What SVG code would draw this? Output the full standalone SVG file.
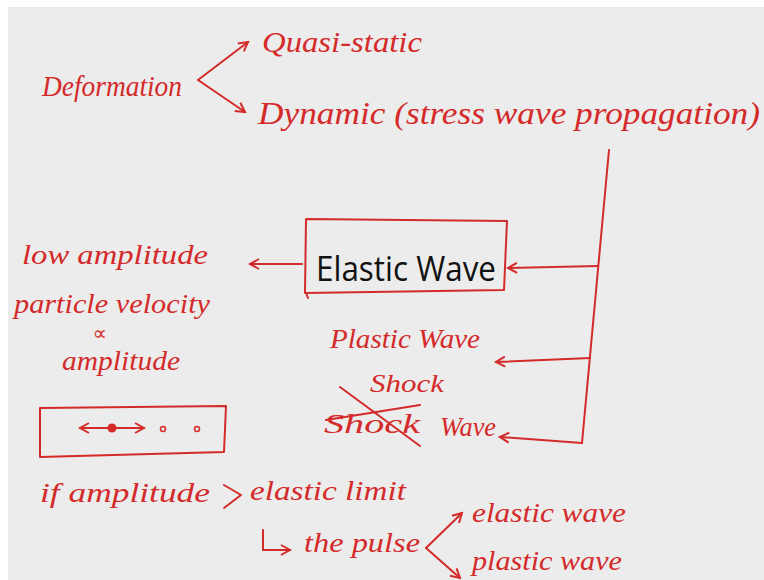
<svg xmlns="http://www.w3.org/2000/svg" width="764" height="580" viewBox="0 0 764 580">
<defs>
<marker id="ah" markerWidth="12" markerHeight="12" refX="10" refY="6" orient="auto" markerUnits="userSpaceOnUse">
<path d="M1,1 L10,6 L1,11" fill="none" stroke="#d42a2a" stroke-width="2"/>
</marker>
</defs>
<style>
.hw{font-family:"Liberation Serif",serif;font-style:italic;fill:#d42a2a;}
.ln{fill:none;stroke:#d42a2a;stroke-width:2;stroke-linecap:round;stroke-linejoin:round;}
.ar{marker-end:url(#ah);}
</style>
<rect width="764" height="580" fill="#ffffff"/>
<rect x="8" y="7" width="756" height="573" fill="#ececec"/>

<g id="deformation"><text class="hw" x="42" y="96" font-size="30" textLength="140" lengthAdjust="spacingAndGlyphs">Deformation</text></g>
<g id="quasi-static"><text class="hw" x="262" y="52" font-size="30" textLength="160" lengthAdjust="spacingAndGlyphs">Quasi-static</text></g>
<g id="dynamic"><text class="hw" x="258" y="124" font-size="32" textLength="502" lengthAdjust="spacingAndGlyphs">Dynamic (stress wave propagation)</text></g>

<g id="elastic-wave">
<path class="ln" d="M306,219 L507,221 L504,290 L305,293 Z" />
<path class="ln" d="M306,293 L308,298"/>
<text x="316" y="281" font-family="'Open Sans','Liberation Sans',sans-serif" font-size="35" fill="#111" textLength="180" lengthAdjust="spacingAndGlyphs">Elastic Wave</text>
</g>

<g id="low-amplitude">
<text class="hw" x="22" y="264" font-size="28" textLength="186" lengthAdjust="spacingAndGlyphs">low amplitude</text>
<text class="hw" x="14" y="313" font-size="28" textLength="196" lengthAdjust="spacingAndGlyphs">particle velocity</text>
<text x="100" y="340" font-size="20" font-family="'DejaVu Sans',sans-serif" fill="#d42a2a" text-anchor="middle">∝</text>
<text class="hw" x="62" y="370" font-size="28" textLength="118" lengthAdjust="spacingAndGlyphs">amplitude</text>
</g>

<g id="particle-box">
<path class="ln" d="M40,408 L226,406 L224,452 L40,457 Z"/>
<line class="ln ar" x1="112" y1="428" x2="144" y2="428"/>
<line class="ln ar" x1="112" y1="428" x2="80" y2="428"/>
<circle cx="112" cy="428" r="4.5" fill="#d42a2a"/>
<circle cx="163" cy="429" r="2.5" fill="none" stroke="#d42a2a" stroke-width="1.5"/>
<circle cx="197" cy="429" r="2.5" fill="none" stroke="#d42a2a" stroke-width="1.5"/>
</g>

<g id="plastic-wave"><text class="hw" x="330" y="348" font-size="28" textLength="150" lengthAdjust="spacingAndGlyphs">Plastic Wave</text></g>
<g id="shock-wave">
<text class="hw" x="370" y="392" font-size="26" textLength="74" lengthAdjust="spacingAndGlyphs">Shock</text>
<text class="hw" x="324" y="433" font-size="28" textLength="96" lengthAdjust="spacingAndGlyphs">Shock</text>
<path class="ln" d="M340,387 L420,446"/>
<path class="ln" d="M326,420 L420,405"/>
<text class="hw" x="440" y="436" font-size="28" textLength="56" lengthAdjust="spacingAndGlyphs">Wave</text>
</g>

<g id="if-amplitude">
<text class="hw" x="40" y="502" font-size="28" textLength="170" lengthAdjust="spacingAndGlyphs">if amplitude</text>
<path class="ln" d="M224,485 L241,495 L224,508"/>
<text class="hw" x="250" y="500" font-size="28" textLength="156" lengthAdjust="spacingAndGlyphs">elastic limit</text>
</g>
<g id="the-pulse">
<path class="ln ar" d="M263,530 L263,550 L290,550"/>
<text class="hw" x="304" y="552" font-size="28" textLength="116" lengthAdjust="spacingAndGlyphs">the pulse</text>
</g>
<g id="pulse-elastic"><text class="hw" x="472" y="522" font-size="28" textLength="154" lengthAdjust="spacingAndGlyphs">elastic wave</text></g>
<g id="pulse-plastic"><text class="hw" x="472" y="570" font-size="28" textLength="150" lengthAdjust="spacingAndGlyphs">plastic wave</text></g>

<g id="connectors">
<path class="ln ar" d="M198,80 L248,42"/>
<path class="ln ar" d="M198,80 L245,112"/>
<path class="ln" d="M609,150 L582,443"/>
<path class="ln ar" d="M598,266 L508,268"/>
<path class="ln ar" d="M590,358 L496,362"/>
<path class="ln ar" d="M582,443 L500,437"/>
<path class="ln ar" d="M302,264 L250,264"/>
<path class="ln ar" d="M426,548 L462,513"/>
<path class="ln ar" d="M426,548 L460,578"/>
</g>
</svg>
